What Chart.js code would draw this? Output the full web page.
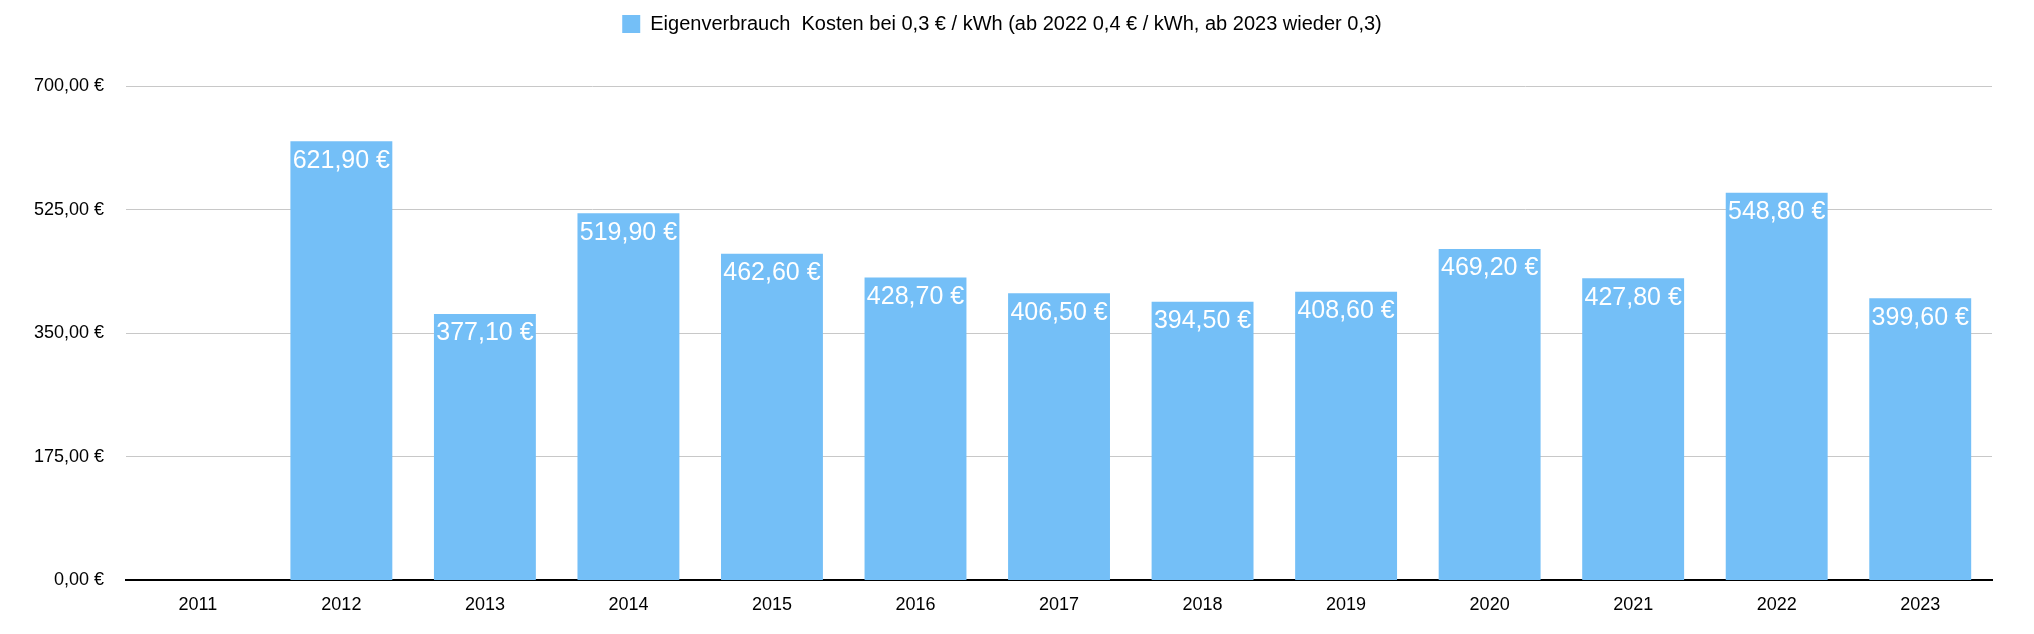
<!DOCTYPE html>
<html>
<head>
<meta charset="utf-8">
<script src="https://cdn.jsdelivr.net/npm/chart.js@4/dist/chart.umd.min.js"></script>
<style>
  html, body { margin: 0; padding: 0; background: #fff; }
  #wrap { width: 2034px; height: 634px; }
</style>
</head>
<body>
<div id="wrap"><canvas id="chart"></canvas></div>
<script>
const years = ['2011', '2012', '2013', '2014', '2015', '2016', '2017', '2018', '2019', '2020', '2021', '2022', '2023'];
const costs = [null, 621.9, 377.1, 519.9, 462.6, 428.7, 406.5, 394.5, 408.6, 469.2, 427.8, 548.8, 399.6];
const yTicks = [0, 175, 350, 525, 700];
const seriesName = 'Eigenverbrauch  Kosten bei 0,3 € / kWh (ab 2022 0,4 € / kWh, ab 2023 wieder 0,3)';

const euro = v => v.toFixed(2).replace('.', ',') + ' €';
const FONT = '"Liberation Sans", Arial, sans-serif';

// white value labels inside the top of each bar
const barLabels = {
    id: 'barLabels',
    afterDatasetsDraw(chart) {
        const ctx = chart.ctx;
        const meta = chart.getDatasetMeta(0);
        ctx.save();
        ctx.font = '25px ' + FONT;
        ctx.fillStyle = '#fff';
        ctx.textAlign = 'center';
        ctx.textBaseline = 'top';
        meta.data.forEach((bar, i) => {
            if (costs[i] == null) return;
            ctx.fillText(euro(costs[i]), bar.x, bar.y + 7);
        });
        ctx.restore();
    }
};

// extra space between legend and plot
const legendGap = {
    id: 'legendGap',
    beforeInit(chart) {
        const fit = chart.legend.fit;
        chart.legend.fit = function () {
            fit.bind(chart.legend)();
            this.height += 42;
        };
    }
};

new Chart(document.getElementById('chart'), {
    type: 'bar',
    data: {
        labels: years,
        datasets: [{
            label: seriesName,
            data: costs,
            backgroundColor: '#74bff7',
            categoryPercentage: 0.71,
            barPercentage: 1
        }]
    },
    options: {
        responsive: true,
        maintainAspectRatio: false,
        animation: false,
        layout: { padding: { left: 12, right: 42, top: 6, bottom: 12 } },
        plugins: {
            legend: {
                position: 'top',
                labels: {
                    boxWidth: 18, boxHeight: 18, padding: 8,
                    color: '#000',
                    font: { family: FONT, size: 20 }
                }
            },
            tooltip: { enabled: false }
        },
        scales: {
            x: {
                grid: { display: false },
                border: { color: '#000', width: 2 },
                ticks: { color: '#000', font: { family: FONT, size: 18 }, padding: 6 }
            },
            y: {
                min: 0, max: 700,
                afterBuildTicks: axis => { axis.ticks = yTicks.map(v => ({ value: v })); },
                grid: { color: '#c8c8c8', drawTicks: false, lineWidth: 1 },
                border: { display: false },
                ticks: {
                    color: '#000', padding: 22,
                    font: { family: FONT, size: 18 },
                    callback: v => euro(v)
                }
            }
        }
    },
    plugins: [barLabels, legendGap]
});
</script>
</body>
</html>
